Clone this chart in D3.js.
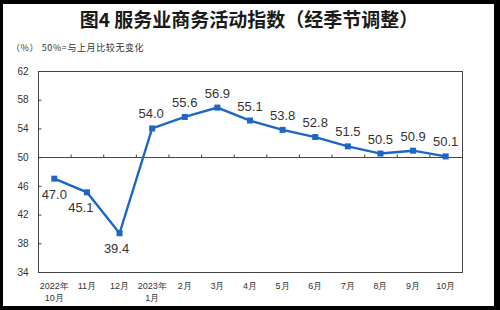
<html>
<head>
<meta charset="utf-8">
<script src="https://cdn.jsdelivr.net/npm/d3@7"></script>
<style>
body { margin: 0; background: #000; }
svg { display: block; }
text { font-family: "Liberation Sans", Arial, sans-serif; }
.cjk { font-family: "Noto Sans CJK SC", sans-serif; }
</style>
</head>
<body>
<svg id="chart" width="500" height="310"></svg>
<script>
// data
var months = ["2022-10","2022-11","2022-12","2023-01","2023-02","2023-03","2023-04",
              "2023-05","2023-06","2023-07","2023-08","2023-09","2023-10"];
var values = [47.0, 45.1, 39.4, 54.0, 55.6, 56.9, 55.1, 53.8, 52.8, 51.5, 50.5, 50.9, 50.1];
var labelLine1 = ["2022年","11月","12月","2023年","2月","3月","4月","5月","6月","7月","8月","9月","10月"];
var labelLine2 = ["10月","","","1月","","","","","","","","",""];
var labelSide = ["below","below","below","above","above","above","above","above","above","above","above","above","above"];
var yTicks = [34, 38, 42, 46, 50, 54, 58, 62];

var svg = d3.select("#chart");

// white page inside the black frame
svg.append("rect")
  .attr("x", 3).attr("y", 4)
  .attr("width", 491).attr("height", 302)
  .attr("fill", "#fff");

var margin = {left: 38, right: 38, top: 71, bottom: 38};
var W = 500, H = 310;

var x = d3.scaleBand().domain(months).range([margin.left, W - margin.right]);
var xb = d3.scaleLinear().domain([0, months.length]).range([margin.left, W - margin.right]);
var y = d3.scaleLinear().domain([34, 62]).range([H - margin.bottom, margin.top]);

// title
svg.append("text")
  .attr("class", "cjk")
  .attr("x", 249).attr("y", 27)
  .attr("text-anchor", "middle")
  .style("font-size", "19px")
  .style("font-weight", "bold")
  .attr("fill", "#1a1a1a")
  .text("图4 服务业商务活动指数（经季节调整）");

svg.append("text")
  .attr("class", "cjk")
  .attr("x", 11).attr("y", 51)
  .style("font-size", "9px")
  .style("letter-spacing", "0.6px")
  .attr("fill", "#333")
  .text("（%） 50%=与上月比较无变化");

// plot frame
svg.append("rect")
  .attr("x", margin.left + 0.5).attr("y", margin.top + 0.5)
  .attr("width", W - margin.left - margin.right)
  .attr("height", H - margin.top - margin.bottom)
  .attr("fill", "none")
  .attr("stroke", "#444")
  .attr("stroke-width", 1);

// y axis, ticks pointing inward
var yAxis = d3.axisLeft(y).tickValues(yTicks).tickSize(-3).tickPadding(10);
var gy = svg.append("g")
  .attr("transform", "translate(" + (margin.left + 0.5) + ",0)")
  .call(yAxis);
gy.select(".domain").remove();
gy.selectAll("line").attr("stroke", "#444");
gy.selectAll("text")
  .style("font-size", "10px")
  .style("font-family", "'Liberation Sans', Arial, sans-serif")
  .attr("fill", "#333");

// 50 line with category ticks pointing up
var xAxis = d3.axisTop(xb).tickValues(d3.range(1, months.length)).tickSize(3).tickFormat("");
var gx = svg.append("g")
  .attr("transform", "translate(0," + (Math.round(y(50)) + 0.5) + ")")
  .call(xAxis);
gx.select(".domain").attr("stroke", "#444").attr("d", "M" + margin.left + ",0H" + (W - margin.right));
gx.selectAll("line").attr("stroke", "#444");

// x labels
var xl = svg.append("g").attr("class", "cjk");
xl.selectAll("text.l1")
  .data(months)
  .enter().append("text")
  .attr("class", "l1")
  .attr("x", function(d) { return x(d) + x.bandwidth() / 2; })
  .attr("y", 289)
  .attr("text-anchor", "middle")
  .style("font-size", "9px")
  .attr("fill", "#333")
  .text(function(d, i) { return labelLine1[i]; });
xl.selectAll("text.l2")
  .data(months)
  .enter().append("text")
  .attr("class", "l2")
  .attr("x", function(d) { return x(d) + x.bandwidth() / 2; })
  .attr("y", 301)
  .attr("text-anchor", "middle")
  .style("font-size", "9px")
  .attr("fill", "#333")
  .text(function(d, i) { return labelLine2[i]; });

// line
var blue = "#1d66c4";
var line = d3.line()
  .x(function(d, i) { return x(months[i]) + x.bandwidth() / 2; })
  .y(function(d) { return y(d); });

svg.append("path")
  .datum(values)
  .attr("d", line)
  .attr("fill", "none")
  .attr("stroke", blue)
  .attr("stroke-width", 2.4);

svg.selectAll("rect.pt")
  .data(values)
  .enter().append("rect")
  .attr("class", "pt")
  .attr("x", function(d, i) { return x(months[i]) + x.bandwidth() / 2 - 3; })
  .attr("y", function(d) { return y(d) - 3; })
  .attr("width", 6).attr("height", 6)
  .attr("fill", blue);

// value labels
var nudge = [0, -6, -3, -1, 0, 0, 0, 0, 0, 0, 0, 0, 0];
svg.selectAll("text.val")
  .data(values)
  .enter().append("text")
  .attr("class", "val")
  .attr("x", function(d, i) { return x(months[i]) + x.bandwidth() / 2 + nudge[i]; })
  .attr("y", function(d, i) { return y(d) + (labelSide[i] === "above" ? -10 : 20); })
  .attr("text-anchor", "middle")
  .style("font-size", "13px")
  .attr("fill", "#333")
  .text(function(d) { return d.toFixed(1); });
</script>
</body>
</html>
